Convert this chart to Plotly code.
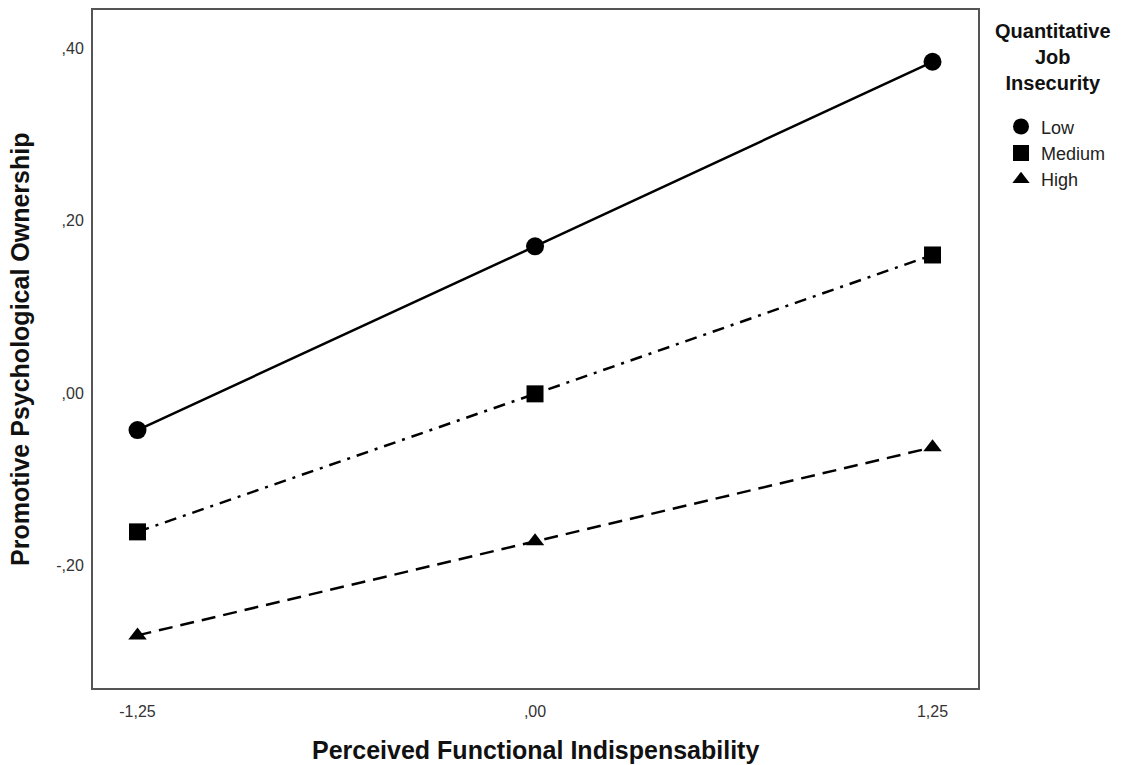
import plotly.graph_objects as go

x_vals = [-1.25, 0.0, 1.25]
x_ticklabels = ["-1,25", ",00", "1,25"]
y_tickvals = [-0.2, 0.0, 0.2, 0.4]
y_ticklabels = ["-,20", ",00", ",20", ",40"]

low = [-0.043, 0.170, 0.384]
medium = [-0.161, -0.001, 0.160]
high = [-0.281, -0.172, -0.063]

series = [
    ("Low", low, "solid", "circle", 18),
    ("Medium", medium, "12px,7px,3px,7px", "square", 17),
    ("High", high, "14px,8px", "triangle-up", 16),
]

fig = go.Figure()
for name, vals, dash, sym, size in series:
    fig.add_trace(go.Scatter(
        x=x_vals, y=vals, mode="lines+markers", name=name, showlegend=False,
        line=dict(color="black", width=2.5, dash=dash),
        marker=dict(symbol=sym, size=size, color="black"),
    ))
for name, vals, dash, sym, size in series:
    fig.add_trace(go.Scatter(
        x=[None], y=[None], mode="markers", name=name, showlegend=True,
        marker=dict(symbol=sym, size=size - 1, color="black"),
    ))

fig.update_layout(
    width=1137, height=765,
    margin=dict(l=93, r=159, t=10, b=77),
    plot_bgcolor="white", paper_bgcolor="white",
    font=dict(family="Liberation Sans, Arial, sans-serif", color="#222"),
    legend=dict(
        x=1.026, y=0.855, xanchor="left", yanchor="top",
        font=dict(size=18, color="#222"),
        itemwidth=30, bgcolor="rgba(0,0,0,0)", tracegroupgap=0,
    ),
    annotations=[
        dict(text="<b>Quantitative<br>Job<br>Insecurity</b>",
             xref="paper", yref="paper", x=1.0848, y=0.988, xanchor="center", yanchor="top",
             showarrow=False, align="center", font=dict(size=20, color="#111")),
        dict(text="<b>Perceived Functional Indispensability</b>",
             xref="paper", yref="paper", x=0.5, y=-0.0914, xanchor="center", yanchor="middle",
             showarrow=False, font=dict(size=25, color="#111")),
        dict(text="<b>Promotive Psychological Ownership</b>",
             xref="paper", yref="paper", x=-0.0825, y=0.5, xanchor="center", yanchor="middle",
             textangle=-90, showarrow=False, font=dict(size=25, color="#111")),
    ],
)
fig.update_xaxes(
    range=[-1.39, 1.393], tickvals=x_vals, ticktext=x_ticklabels,
    showgrid=False, zeroline=False, showline=True, mirror=True,
    linecolor="#555", linewidth=2, ticks="", automargin=False,
    tickfont=dict(size=16, color="#333"), ticklabelstandoff=8,
)
fig.update_yaxes(
    range=[-0.342, 0.444], tickvals=y_tickvals, ticktext=y_ticklabels,
    showgrid=False, zeroline=False, showline=True, mirror=True,
    linecolor="#555", linewidth=2, ticks="", automargin=False,
    tickfont=dict(size=16, color="#333"), ticklabelstandoff=4,
)

fig.write_html("out.html", config={"displayModeBar": False},
               post_script="document.body.style.margin='0';")
